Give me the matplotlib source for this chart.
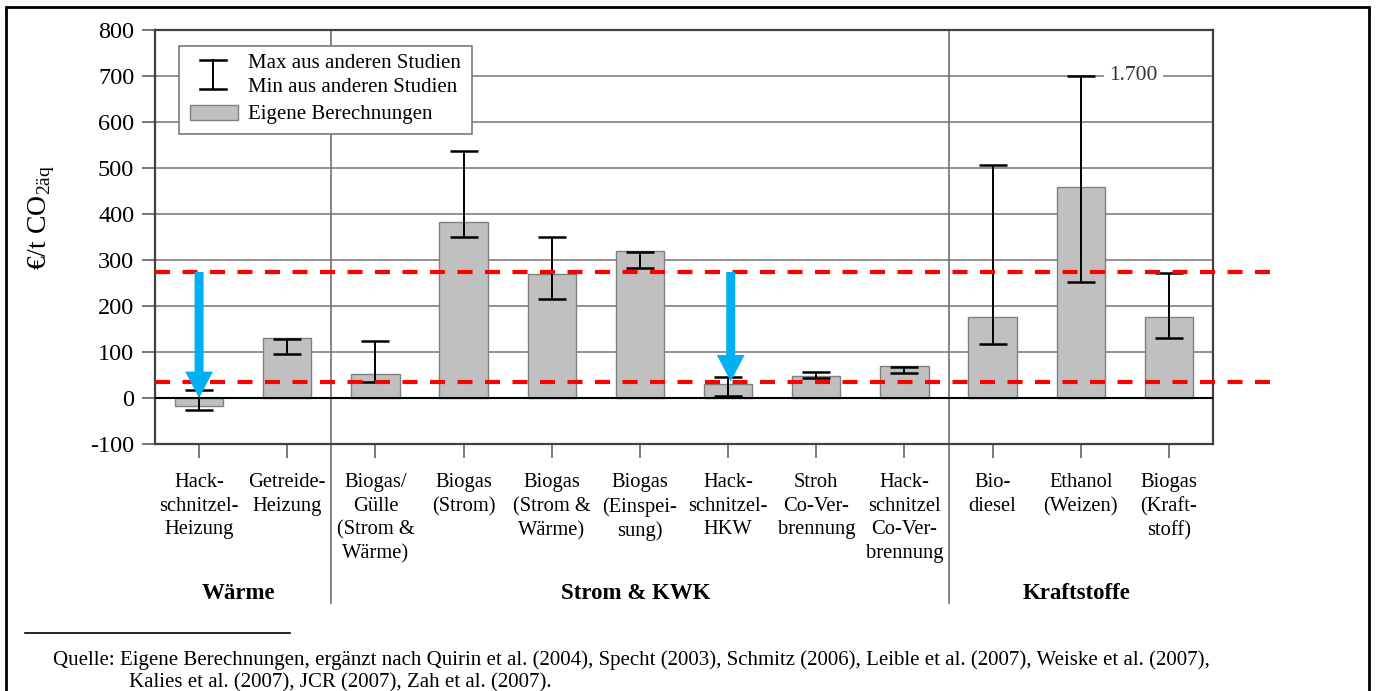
import matplotlib
matplotlib.use("Agg")
import numpy as np
import matplotlib.pyplot as plt
import matplotlib.transforms as mtransforms
from matplotlib.patches import Rectangle, FancyArrowPatch, ArrowStyle
from matplotlib.lines import Line2D

plt.rcParams['font.family'] = ['Liberation Serif', 'DejaVu Serif']
plt.rcParams['mathtext.fontset'] = 'custom'
plt.rcParams['mathtext.rm'] = 'Liberation Serif'

# ---------------------------------------------------------------- data
categories = [
    "Hack-\nschnitzel-\nHeizung", "Getreide-\nHeizung",
    "Biogas/\nGülle\n(Strom &\nWärme)", "Biogas\n(Strom)",
    "Biogas\n(Strom &\nWärme)", "Biogas\n(Einspei-\nsung)",
    "Hack-\nschnitzel-\nHKW", "Stroh\nCo-Ver-\nbrennung",
    "Hack-\nschnitzel\nCo-Ver-\nbrennung", "Bio-\ndiesel",
    "Ethanol\n(Weizen)", "Biogas\n(Kraft-\nstoff)",
]
own_calc = [-18, 131, 53, 382, 269, 319, 30, 47, 70, 177, 459, 177]
study_max = [17, 129, 125, 537, 351, 317, 45, 56, 68, 507, 1700, 272]
study_min = [-25, 96, 34, 351, 215, 282, 4, 44, 55, 118, 253, 130]
groups = ["Wärme", "Strom & KWK", "Kraftstoffe"]
group_sizes = [2, 7, 3]
thresholds = [274, 35]
# arrows: (category position, start value, end value)
arrows = [(0, 274, 0), (6.03, 274, 36)]
axis_break = 700          # values above this are drawn at the break and labelled
yticks = list(range(-100, 801, 100))

# ---------------------------------------------------------------- figure
W, H = 1376, 691
fig = plt.figure(figsize=(W / 100, H / 100), dpi=100)
ax = fig.add_axes([155 / W, 1 - 444 / H, (1213 - 155) / W, (444 - 30) / H])

x = np.arange(len(categories))
ax.set_xlim(-0.5, len(categories) - 0.5)
ax.set_ylim(-100, 800)

# horizontal grid
ax.set_axisbelow(True)
ax.yaxis.grid(True, color='#8a8a8a', lw=1.3)
ax.xaxis.grid(False)

# bars
ax.bar(x, own_calc, width=0.55, color='#c0c0c0', edgecolor='#808080',
       linewidth=1.0, zorder=2)
ax.axhline(0, color='black', lw=1.5, zorder=3)

# min/max range from other studies
shown_max = [min(v, axis_break) for v in study_max]
mid = [(a + b) / 2 for a, b in zip(shown_max, study_min)]
half = [(a - b) / 2 for a, b in zip(shown_max, study_min)]
ax.errorbar(x, mid, yerr=half, fmt='none', ecolor='black', elinewidth=1.4,
            capsize=10, capthick=1.8, zorder=4)
for xi, v in zip(x, study_max):
    if v > axis_break:
        ax.text(xi + 0.6, axis_break, f"{v:,}".replace(",", "."), ha='center',
                va='center', fontsize=15.5, color='#333333', zorder=5,
                bbox=dict(fc='white', ec='none', pad=4))

# group separators, reaching down into the label area
trans = mtransforms.blended_transform_factory(ax.transData, ax.transAxes)
bounds = np.cumsum(group_sizes)[:-1] - 0.5
for b in bounds:
    ax.plot([b, b], [-0.385, 1], transform=trans, color='#707070', lw=1.2,
            clip_on=False, zorder=1)

# group labels
starts = np.concatenate([[0], np.cumsum(group_sizes)[:-1]])
for name, s, n in zip(groups, starts, group_sizes):
    ax.text(s + (n - 1) / 2 - 0.05, -0.362, name, transform=trans, ha='center',
            va='center', fontsize=16.5, fontweight='bold')

# threshold lines
for t in thresholds:
    ax.plot([-0.5, 12.18], [t, t], color='#ff0000', lw=3.0,
            dashes=(3.6, 3.0), clip_on=False, zorder=6)

# arrows
for xa, y0, y1 in arrows:
    ax.add_patch(FancyArrowPatch(
        (xa, y0), (xa, y1),
        arrowstyle=ArrowStyle.Simple(head_length=19, head_width=20, tail_width=6.5),
        mutation_scale=1, color='#00b0f0', shrinkA=0, shrinkB=0, lw=0, zorder=7))

# axes styling
for sp in ax.spines.values():
    sp.set_color('#404040')
    sp.set_linewidth(1.6)
ax.set_yticks(yticks)
ax.set_yticklabels([str(v) for v in yticks], fontsize=17.5)
ax.tick_params(axis='y', length=9.5, width=1.2, color='#606060', pad=5.5)
ax.set_xticks(x)
ax.set_xticklabels(categories, fontsize=14.8, linespacing=1.33,
                   multialignment='center')
ax.tick_params(axis='x', length=10, width=1.2, color='#606060', pad=11)
ax.set_ylabel("€/t CO$_{\\mathrm{2äq}}$", fontsize=20)
ax.yaxis.set_label_coords(-0.0926, 0.548)

# legend box
lg = ax.transAxes
ax.add_patch(Rectangle((0.0227, 0.749), 0.277, 0.212, transform=lg,
                       facecolor='white', edgecolor='#7a7a7a', lw=1.2,
                       zorder=8, clip_on=False))
ex, ytop, ybot, cw = 0.0548, 0.9275, 0.8575, 0.0123
ax.plot([ex, ex], [ybot, ytop], transform=lg, color='black', lw=1.4, zorder=9)
ax.plot([ex - cw, ex + cw], [ytop, ytop], transform=lg, color='black', lw=1.8, zorder=9)
ax.plot([ex - cw, ex + cw], [ybot, ybot], transform=lg, color='black', lw=1.8, zorder=9)
ax.add_patch(Rectangle((0.0331, 0.783), 0.0453, 0.036, transform=lg,
                       facecolor='#c0c0c0', edgecolor='#808080', lw=1.0, zorder=9))
for ty, txt in [(0.920, "Max aus anderen Studien"),
                (0.860, "Min aus anderen Studien"),
                (0.797, "Eigene Berechnungen")]:
    ax.text(0.0879, ty, txt, transform=lg, fontsize=15, va='center', zorder=9)

# source note
fig.add_artist(Line2D([25 / W, 290 / W], [1 - 633 / H] * 2, color='black', lw=1.2))
fig.text(53 / W, 1 - 660 / H,
         "Quelle: Eigene Berechnungen, ergänzt nach Quirin et al. (2004), Specht (2003), "
         "Schmitz (2006), Leible et al. (2007), Weiske et al. (2007),",
         fontsize=15.05, va='center')
fig.text(129 / W, 1 - 683 / H,
         "Kalies et al. (2007), JCR (2007), Zah et al. (2007).",
         fontsize=15.05, va='center')

# outer frame
fig.add_artist(Rectangle((6 / W, -0.1), (1369 - 6) / W, 1.1 - 7 / H,
                         transform=fig.transFigure, fill=False,
                         edgecolor='black', lw=2.0))

fig.savefig("out.png", dpi=100)
